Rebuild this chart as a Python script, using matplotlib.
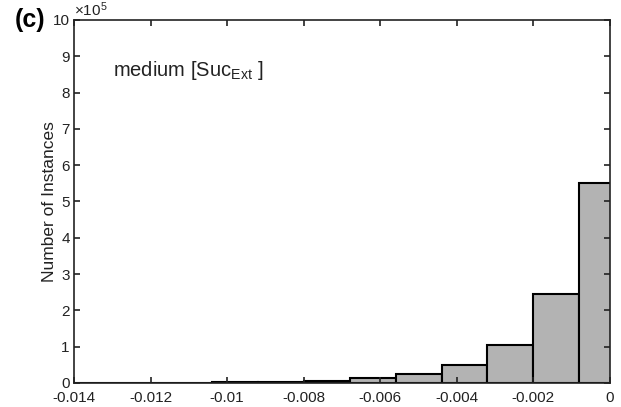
import numpy as np
import matplotlib
matplotlib.use('Agg')
import matplotlib.pyplot as plt

plt.rcParams['font.family'] = ['Liberation Sans', 'DejaVu Sans']
plt.rcParams['mathtext.fontset'] = 'custom'
plt.rcParams['mathtext.rm'] = 'Liberation Sans'
plt.rcParams['mathtext.it'] = 'Liberation Sans:italic'

# histogram bins (left edges, width 0.0012) and counts in units of 1e5
bin_edges = [-0.014, -0.0128, -0.0116, -0.0104, -0.0092, -0.008, -0.0068,
             -0.0056, -0.0044, -0.0032, -0.002, -0.0008, 0.0004]
counts = [0.001, 0.003, 0.006, 0.015, 0.03, 0.065, 0.13,
          0.25, 0.50, 1.04, 2.44, 5.52]
xticks = [-0.014, -0.012, -0.01, -0.008, -0.006, -0.004, -0.002, 0]
xticklabels = ['-0.014', '-0.012', '-0.01', '-0.008', '-0.006', '-0.004', '-0.002', '0']

fig = plt.figure(figsize=(6.21, 4.07), dpi=100)
ax = fig.add_axes([0.1192, 0.059, 0.863, 0.892])

edges = np.array(bin_edges)
ax.bar(edges[:-1], counts, width=np.diff(edges), align='edge',
       color='#b3b3b3', edgecolor='black', linewidth=1.5)

ax.set_xlim(-0.014, 0)
ax.set_ylim(0, 10)
ax.set_xticks(xticks)
ax.set_xticklabels(xticklabels)
ax.set_yticks(range(0, 11))
ax.tick_params(direction='in', top=True, right=True, length=4, width=1.2,
               labelsize=11, pad=3, colors='#222222', labelcolor='#222222')
ax.tick_params(axis='x', pad=5.5)
for s in ax.spines.values():
    s.set_linewidth(1.2)
    s.set_color('#222222')

ax.set_ylabel('Number of Instances', fontsize=12.5, color='#222222')
ax.yaxis.set_label_coords(-0.032, 0.5)
ax.text(0.0, 1.003, r'$\times10^{5}$', transform=ax.transAxes,
        fontsize=11, ha='left', va='bottom', color='#222222')
ax.text(0.072, 0.862, r'medium [Suc$_{\rm Ext}$ ]', transform=ax.transAxes,
        fontsize=14.5, ha='left', va='center', color='#222222')
fig.text(0.024, 0.95, '(c)', fontsize=18, fontweight='bold', ha='left', va='center')

plt.savefig('out.png', dpi=100)
